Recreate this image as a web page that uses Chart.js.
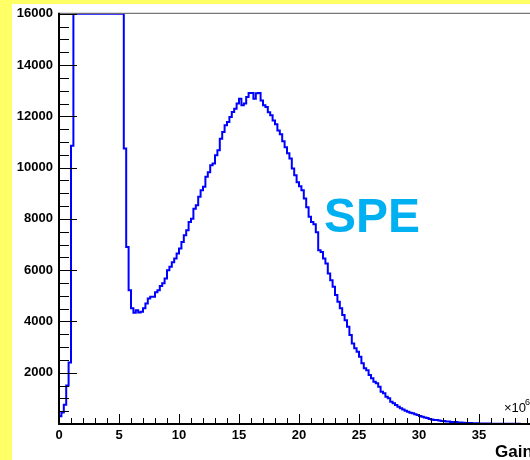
<!DOCTYPE html>
<html>
<head>
<meta charset="utf-8">
<script src="https://cdn.jsdelivr.net/npm/chart.js@4/dist/chart.umd.min.js"></script>
<style>
  html, body { margin: 0; padding: 0; overflow: hidden; background: #ffff66; }
  canvas { display: block; }
</style>
</head>
<body>
<canvas id="speChart" width="560" height="460"></canvas>
<script>
// SPE gain spectrum (x in units of 1e6), bins of 0.2 starting at 0
const binStart = 0;
const binWidth = 0.2;
const counts = [
  300, 450, 750, 1500, 2400, 10850,
  16000, 16000, 16000, 16000, 16000, 16000, 16000, 16000, 16000, 16000, 16000,
  16000, 16000, 16000, 16000, 16000, 16000, 16000, 16000, 16000, 16000,
  10750, 6900, 5220, 4510, 4340, 4440, 4350, 4380, 4510, 4700,
  4900, 4960, 4960, 5140, 5220, 5380, 5490, 5680, 6000, 6130,
  6310, 6460, 6650, 6850, 7100, 7360, 7560, 7880, 8010, 8400,
  8530, 8860, 9120, 9250, 9640, 9820, 10090, 10160, 10480, 10680,
  11130, 11390, 11650, 11780, 11970, 12170, 12300, 12500, 12690, 12430,
  12500, 12750, 12910, 12910, 12690, 12900, 12910, 12620, 12430, 12360,
  12160, 12040, 11840, 11690, 11450, 11300, 11030, 10790, 10560, 10360,
  9970, 9700, 9430, 9270, 9120, 8800, 8450, 8080, 7880, 7790,
  7480, 6780, 6710, 6460, 6260, 5870, 5610, 5350, 5030, 4770,
  4510, 4250, 4050, 3790, 3470, 3140, 2950, 2820, 2620, 2370,
  2170, 2100, 1910, 1780, 1650, 1590, 1450, 1260, 1200, 1060,
  1000, 870, 810, 740, 670, 610, 570, 520, 480, 440,
  420, 380, 350, 310, 280, 250, 230, 195, 180, 160,
  155, 135, 120, 115, 100, 95, 80, 78, 75, 60,
  58, 50, 40, 38, 36, 28, 26, 25, 22, 20,
  18, 17, 15, 14, 12, 11, 10, 9, 8, 8,
  7, 6, 6, 5, 5, 4, 4, 3, 3, 3
];
const xTickLabels = ['0', '5', '10', '15', '20', '25', '30', '35', '40'];
const yTickLabels = ['2000', '4000', '6000', '8000', '10000', '12000', '14000', '16000'];

// histogram edges -> points for a step line
const histPoints = counts.map((c, i) => ({ x: binStart + i * binWidth, y: c }));
histPoints.push({ x: binStart + counts.length * binWidth, y: counts[counts.length - 1] });

const FONT = '"Liberation Sans", Arial, sans-serif';

// ROOT-like frame: yellow pad, inner ticks, labels
const rootFrame = {
  id: 'rootFrame',
  beforeDraw(chart) {
    const ctx = chart.ctx;
    ctx.save();
    ctx.fillStyle = '#ffff66';
    ctx.fillRect(0, 0, chart.width, chart.height);
    ctx.fillStyle = '#ffffff';
    ctx.fillRect(12, 4, chart.width - 12, chart.height - 4);
    ctx.restore();
  },
  afterDatasetsDraw(chart) {
    const { ctx, chartArea: a, scales: { x, y } } = chart;
    ctx.save();
    // top frame line
    ctx.strokeStyle = '#555';
    ctx.lineWidth = 1;
    ctx.beginPath();
    ctx.moveTo(a.left, a.top - 0.5);
    ctx.lineTo(a.right, a.top - 0.5);
    ctx.stroke();

    ctx.strokeStyle = '#000';
    ctx.lineWidth = 1;
    // y ticks every 500, major every 2000
    for (let v = 0; v <= 16000; v += 500) {
      const py = Math.round(y.getPixelForValue(v)) + 0.5;
      const len = v % 2000 === 0 ? 18 : 10;
      ctx.beginPath();
      ctx.moveTo(a.left, py);
      ctx.lineTo(a.left + len, py);
      ctx.stroke();
    }
    // x ticks every 1, major every 5
    for (let v = 0; v <= 40; v += 1) {
      const px = Math.round(x.getPixelForValue(v)) + 0.5;
      const len = v % 5 === 0 ? 10 : 6;
      ctx.beginPath();
      ctx.moveTo(px, a.bottom);
      ctx.lineTo(px, a.bottom - len);
      ctx.stroke();
    }
    // axis lines
    ctx.lineWidth = 2;
    ctx.beginPath();
    ctx.moveTo(a.left, a.top - 1);
    ctx.lineTo(a.left, a.bottom);
    ctx.lineTo(a.right, a.bottom);
    ctx.stroke();

    // SPE label
    ctx.fillStyle = '#00b0f0';
    ctx.font = 'bold 48px ' + FONT;
    ctx.textBaseline = 'alphabetic';
    ctx.fillText('SPE', 324, 232);

    // exponent and axis title
    ctx.fillStyle = '#000';
    ctx.font = '13px ' + FONT;
    ctx.fillText('\u00d710', 504, 412);
    ctx.font = '9px ' + FONT;
    ctx.fillText('6', 525, 405);
    ctx.font = 'bold 17px ' + FONT;
    ctx.fillText('Gain', 495, 457);
    ctx.restore();
  }
};

new Chart(document.getElementById('speChart'), {
  type: 'line',
  data: {
    datasets: [{
      data: histPoints,
      stepped: true,
      borderColor: '#0000ff',
      borderWidth: 2,
      pointRadius: 0,
      fill: false
    }]
  },
  options: {
    responsive: false,
    animation: false,
    layout: { padding: { top: 13, left: 0, right: 21, bottom: 0 } },
    plugins: { legend: { display: false }, tooltip: { enabled: false } },
    scales: {
      x: {
        type: 'linear',
        min: 0,
        max: 40,
        afterFit: (s) => { s.height = 36; },
        grid: { display: false, drawTicks: false },
        border: { display: false },
        ticks: {
          stepSize: 5,
          padding: 4,
          color: '#000',
          font: { family: FONT, size: 13, weight: 'bold' },
          callback: (v) => xTickLabels.includes(String(v)) ? String(v) : ''
        }
      },
      y: {
        min: 0,
        max: 16000,
        afterFit: (s) => { s.width = 59; },
        grid: { display: false, drawTicks: false },
        border: { display: false },
        ticks: {
          stepSize: 2000,
          padding: 6,
          color: '#000',
          font: { family: FONT, size: 13, weight: 'bold' },
          callback: (v) => yTickLabels.includes(String(v)) ? String(v) : ''
        }
      }
    }
  },
  plugins: [rootFrame]
});
</script>
</body>
</html>
